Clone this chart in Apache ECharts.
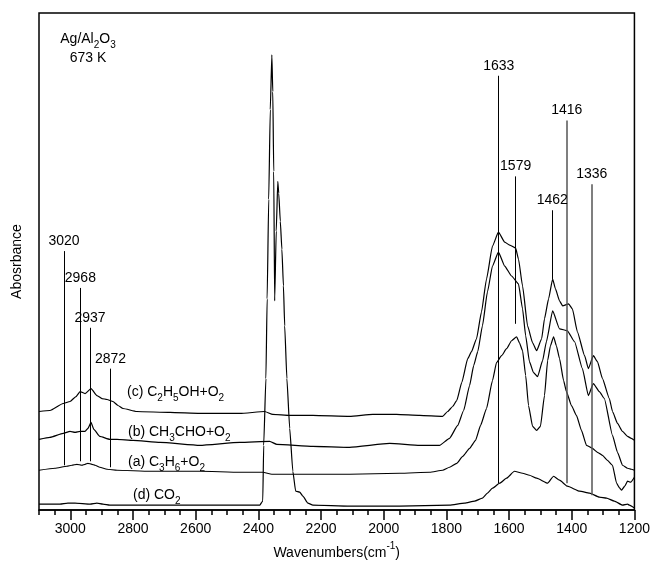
<!DOCTYPE html>
<html>
<head>
<meta charset="utf-8">
<script src="https://cdn.jsdelivr.net/npm/echarts@6/dist/echarts.min.js"></script>
<style>
  html, body { margin: 0; padding: 0; background: #fff; }
  #chart { width: 653px; height: 565px; }
</style>
</head>
<body>
<div id="chart"></div>
<script>
// wavenumber (cm-1), absorbance (arbitrary units, offset spectra)
const specC = [[3100,99],[3065,100],[3023,107],[3001,109],[2982,114],[2969,119],[2953,117],[2934,122],[2915,115],[2899,112],[2883,111],[2864,109],[2848,105],[2832,102],[2788,99],[2682,98],[2587,97],[2459,97],[2380,99],[2354,96],[2300,95],[2226,95],[2109,94],[2035,96],[1959,96],[1885,95],[1812,94],[1796,99],[1780,104],[1767,110],[1751,128],[1732,152],[1720,159],[1704,172],[1688,199],[1672,232],[1653,265],[1634,279],[1614,269],[1598,266],[1579,263],[1570,252],[1557,225],[1541,185],[1525,168],[1512,160],[1496,172],[1487,192],[1474,212],[1461,232],[1452,222],[1439,210],[1429,205],[1410,207],[1398,202],[1382,179],[1359,155],[1347,142],[1331,155],[1318,149],[1302,132],[1280,112],[1270,99],[1254,87],[1238,79],[1222,74],[1210,72],[1200,70]];

const specB = [[3100,71],[3065,73],[3023,77],[3001,79],[2985,78],[2969,79],[2953,79],[2944,82],[2934,88],[2925,81],[2906,74],[2874,71],[2851,71],[2800,70],[2714,68],[2587,65],[2459,68],[2364,69],[2341,66],[2226,64],[2109,63],[1981,67],[1885,65],[1822,65],[1790,72],[1764,85],[1745,100],[1726,125],[1713,145],[1700,159],[1685,185],[1669,219],[1653,245],[1634,259],[1614,245],[1592,235],[1570,227],[1557,202],[1547,175],[1535,149],[1522,138],[1509,134],[1493,150],[1481,169],[1461,200],[1439,182],[1414,180],[1391,169],[1366,142],[1347,115],[1331,127],[1312,119],[1296,112],[1270,75],[1254,58],[1238,45],[1222,42],[1210,41],[1200,40]];

const specA = [[3100,40],[3049,42],[3011,44],[2995,45],[2979,46],[2963,45],[2953,46],[2944,47],[2931,46],[2921,45],[2906,43],[2883,41],[2851,40],[2746,39],[2587,39],[2459,38],[2386,38],[2357,36],[2268,36],[2109,36],[1949,37],[1853,38],[1812,40],[1790,43],[1767,47],[1748,54],[1726,62],[1707,70],[1691,85],[1672,102],[1653,130],[1640,148],[1624,155],[1608,162],[1592,170],[1576,174],[1567,168],[1557,160],[1547,135],[1538,105],[1525,84],[1512,80],[1500,84],[1487,115],[1477,150],[1468,165],[1458,174],[1449,165],[1439,152],[1426,130],[1417,119],[1401,105],[1385,95],[1369,80],[1353,65],[1334,62],[1318,58],[1302,55],[1286,50],[1270,45],[1257,27],[1247,22],[1241,20],[1231,24],[1222,29],[1212,28],[1200,33]];

const specD = [[3100,6],[3033,6],[3008,7],[2985,7],[2937,6],[2915,7],[2896,6],[2874,5],[2746,5],[2587,5],[2459,5],[2395,5],[2389,8],[2386,9],[2383,65],[2376,132],[2372,212],[2367,312],[2362,402],[2357,457],[2354,420],[2351,340],[2348,210],[2343,280],[2338,330],[2335,318],[2330,290],[2325,262],[2320,225],[2316,185],[2309,132],[2300,82],[2290,39],[2281,19],[2268,18],[2258,14],[2242,7],[2226,5],[2109,4],[1949,4],[1790,5],[1742,7],[1710,9],[1685,12],[1669,17],[1653,22],[1630,27],[1608,32],[1583,39],[1557,37],[1535,35],[1512,32],[1477,27],[1458,34],[1439,30],[1414,24],[1375,19],[1343,17],[1312,13],[1289,12],[1264,9],[1238,5],[1222,6],[1216,5],[1200,2]];

// peak markers: wavenumber, bottom, top
const peakWave = [3020, 2968, 2937, 2872, 1633, 1579, 1462, 1416, 1336];
const peakLow  = [45, 49, 49, 43, 27, 187, 232, 27, 15];
const peakHigh = [260, 223, 183, 142, 436, 335, 301, 391, 327];
const peakGray = [false, false, false, false, false, false, false, true, true];

const tickLabels = [1200, 1400, 1600, 1800, 2000, 2200, 2400, 2600, 2800, 3000];
const minorTicks = [1200, 1250, 1300, 1350, 1400, 1450, 1500, 1550, 1600, 1650, 1700, 1750, 1800, 1850, 1900, 1950, 2000, 2050, 2100, 2150, 2200, 2250, 2300, 2350, 2400, 2450, 2500, 2550, 2600, 2650, 2700, 2750, 2800, 2850, 2900, 2950, 3000, 3050, 3100];

const font = "'Liberation Sans', Arial, sans-serif";
const sub = { fontSize: 10, fontFamily: font, color: '#000', verticalAlign: 'bottom', lineHeight: 10, padding: [0, 0, -3, 0] };
const norm = { fontSize: 14, fontFamily: font, color: '#000', lineHeight: 16 };

const markData = peakWave.map(function (w, i) {
    const col = peakGray[i] ? '#555' : '#000';
    return [
        { coord: [w, peakLow[i]], lineStyle: { color: col, width: peakGray[i] ? 1.5 : 1, type: 'solid' } },
        { coord: [w, peakHigh[i]], name: String(w) }
    ];
});

function spectrum(name, data, extra) {
    return Object.assign({
        name: name,
        type: 'line',
        data: data,
        showSymbol: false,
        symbol: 'none',
        smooth: 0.15,
        smoothMonotone: 'x',
        lineStyle: { color: '#000', width: 1.2 },
        itemStyle: { color: '#000' },
        silent: true
    }, extra || {});
}

const chart = echarts.init(document.getElementById('chart'));
chart.setOption({
    animation: false,
    backgroundColor: '#fff',
    grid: { left: 39, right: 18, top: 13, bottom: 53, show: true, borderColor: '#000', borderWidth: 1.5 },
    xAxis: [{
        type: 'value',
        min: 1200,
        max: 3100,
        interval: 200,
        inverse: true,
        position: 'bottom',
        name: '{n|Wavenumbers(cm}{s|-1}{n|)}',
        nameLocation: 'middle',
        nameGap: 26,
        nameTextStyle: {
            rich: {
                n: norm,
                s: { fontSize: 10, fontFamily: font, color: '#000', verticalAlign: 'top', lineHeight: 10, padding: [-4, 0, 0, 0] }
            }
        },
        axisLine: { show: true, lineStyle: { color: '#000', width: 1.5 } },
        axisTick: { show: true, inside: false, length: 10, customValues: tickLabels, lineStyle: { color: '#000', width: 1.5 } },
        axisLabel: {
            customValues: tickLabels,
            margin: 12,
            fontSize: 14,
            fontFamily: font,
            color: '#000',
            formatter: function (v) { return String(v); }
        },
        splitLine: { show: false }
    }, {
        type: 'value',
        min: 1200,
        max: 3100,
        inverse: true,
        position: 'bottom',
        axisLine: { show: false },
        axisTick: { show: true, inside: false, length: 5, customValues: minorTicks, lineStyle: { color: '#000', width: 1.5 } },
        axisLabel: { show: false },
        splitLine: { show: false }
    }],
    yAxis: {
        type: 'value',
        min: 0,
        max: 499,
        name: 'Abosrbance',
        nameLocation: 'middle',
        nameGap: 15,
        nameTextStyle: { fontSize: 14, fontFamily: font, color: '#000' },
        axisLine: { show: false },
        axisTick: { show: false },
        axisLabel: { show: false },
        splitLine: { show: false }
    },
    series: [
        spectrum('(c)', specC),
        spectrum('(b)', specB),
        spectrum('(a)', specA),
        spectrum('(d)', specD, {
            markLine: {
                silent: true,
                symbol: ['none', 'none'],
                lineStyle: { color: '#000', width: 1, type: 'solid' },
                label: {
                    show: true,
                    position: 'end',
                    distance: 3,
                    formatter: '{b}',
                    fontSize: 14,
                    fontFamily: font,
                    color: '#000'
                },
                data: markData
            }
        })
    ],
    graphic: [
        { type: 'text', x: 88, y: 39, style: { text: '{n|Ag/Al}{s|2}{n|O}{s|3}', align: 'center', verticalAlign: 'middle', rich: { n: norm, s: sub } } },
        { type: 'text', x: 88, y: 58, style: { text: '673 K', align: 'center', verticalAlign: 'middle', font: '14px ' + font, fill: '#000' } },
        { type: 'text', x: 127, y: 392, style: { text: '{n|(c) C}{s|2}{n|H}{s|5}{n|OH+O}{s|2}', align: 'left', verticalAlign: 'middle', rich: { n: norm, s: sub } } },
        { type: 'text', x: 128, y: 432, style: { text: '{n|(b) CH}{s|3}{n|CHO+O}{s|2}', align: 'left', verticalAlign: 'middle', rich: { n: norm, s: sub } } },
        { type: 'text', x: 128, y: 462, style: { text: '{n|(a) C}{s|3}{n|H}{s|6}{n|+O}{s|2}', align: 'left', verticalAlign: 'middle', rich: { n: norm, s: sub } } },
        { type: 'text', x: 133, y: 495, style: { text: '{n|(d) CO}{s|2}', align: 'left', verticalAlign: 'middle', rich: { n: norm, s: sub } } }
    ]
});
</script>
</body>
</html>
